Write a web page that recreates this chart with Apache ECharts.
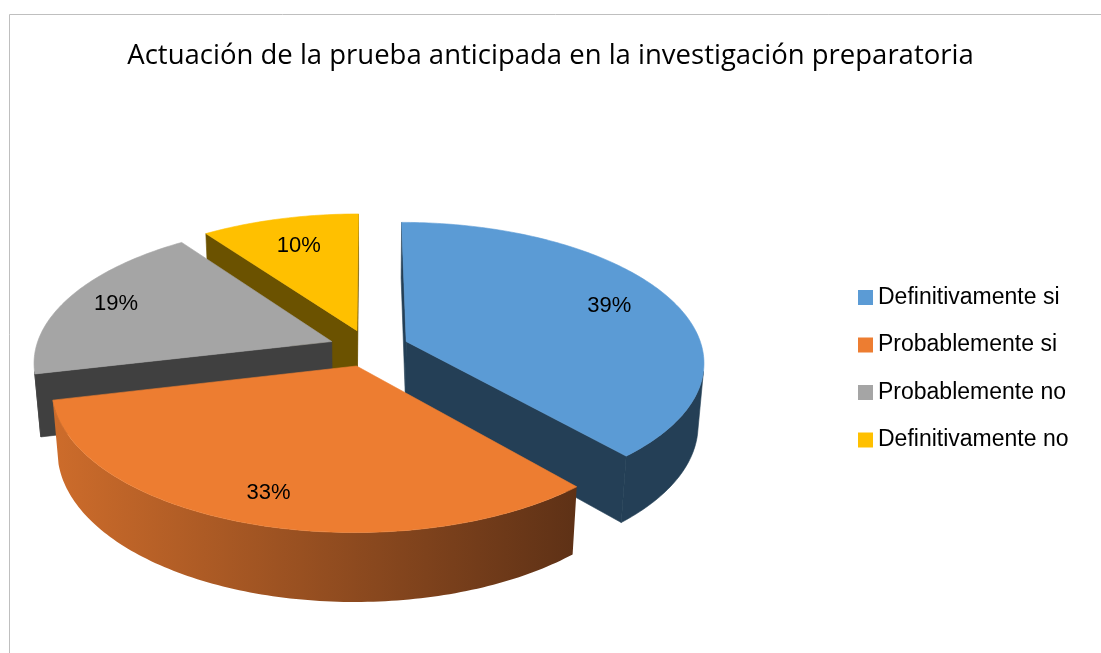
<!DOCTYPE html>
<html style="height: 100%" lang="es">
<head>
    <meta charset="UTF-8">
    <title>Actuación de la prueba anticipada</title>
</head>
<body style="height: 100%; margin: 0; background: #fff">
<div id="main1" style="width: 1101px; height: 653px"></div>

<script src="https://cdn.jsdelivr.net/npm/echarts@6.0.0/dist/echarts.min.js"></script>
<script type="text/javascript">

    // datos
    var categories = ['Definitivamente si', 'Probablemente si', 'Probablemente no', 'Definitivamente no'];
    var values = [39, 33, 19, 10];

    // colores: cara superior, paredes
    var topColors = ['#5b9bd5', '#ed7d31', '#a5a5a5', '#ffc000'];
    var wallLight = ['#243f56', '#cd6c2b', '#404040', '#6b5200'];
    var wallDark = ['#243f56', '#5e3116', '#404040', '#6b5200'];
    // distancia de la etiqueta al vertice (radio = 1)
    var labelRadius = [0.77, 0.83, 0.82, 0.73];

    // camara del pastel 3D
    var CX = 369, CY = 348, F = 1865, D0 = 6.3;
    var TILT = 27.7 * Math.PI / 180;
    var HEIGHT = 0.24, EXPLODE = 0.135;
    var SIN = Math.sin(TILT), COS = Math.cos(TILT);
    var CAM_Z = -D0 * COS;

    var total = values.reduce(function (a, b) { return a + b; }, 0);

    function project(X, Y, Z) {
        var yc = Y * COS + Z * SIN;
        var zc = D0 + Z * COS - Y * SIN;
        return [CX + F * X / zc, CY - F * yc / zc, zc];
    }

    function rad(d) { return d * Math.PI / 180; }

    function sliceAngles(i) {
        var cum = 0;
        for (var k = 0; k < i; k++) cum += values[k];
        return [cum / total * 360, (cum + values[i]) / total * 360];
    }

    function depthZ(pts) {
        var s = 0;
        for (var i = 0; i < pts.length; i++) s += pts[i][2];
        return s / pts.length;
    }

    function poly(pts, fill, z2) {
        return {
            type: 'polygon',
            z2: z2,
            shape: { points: pts.map(function (p) { return [p[0], p[1]]; }) },
            style: { fill: fill, stroke: typeof fill === 'string' ? fill : null, lineWidth: 0.6 }
        };
    }

    function renderItem(params, api) {
        var i = params.dataIndex;
        var ang = sliceAngles(i);
        var a = ang[0], b = ang[1], m = (a + b) / 2;
        var ox = EXPLODE * Math.sin(rad(m)), oz = EXPLODE * Math.cos(rad(m));
        var children = [];

        function pt(r, th, y) {
            return project(ox + r * Math.sin(rad(th)), y, oz + r * Math.cos(rad(th)));
        }

        var steps = Math.max(8, Math.ceil(b - a));
        var ths = [];
        for (var s = 0; s <= steps; s++) ths.push(a + (b - a) * s / steps);

        // pared exterior visible
        var vis = ths.filter(function (th) {
            var nx = Math.sin(rad(th)), nz = Math.cos(rad(th));
            var px = ox + nx, pz = oz + nz;
            return nx * (0 - px) + nz * (CAM_Z - pz) > 0;
        });
        if (vis.length > 1) {
            var outer = [];
            vis.forEach(function (th) { outer.push(pt(1, th, 0)); });
            for (var k = vis.length - 1; k >= 0; k--) outer.push(pt(1, vis[k], -HEIGHT));
            var fill = wallLight[i] === wallDark[i] ? wallDark[i] :
                new echarts.graphic.LinearGradient(0, 0, 1, 0, [
                    { offset: 0, color: wallLight[i] },
                    { offset: 1, color: wallDark[i] }
                ]);
            children.push(poly(outer, fill, Math.round(1000 - depthZ(outer) * 100)));
        }

        // paredes radiales
        [[a, -1], [b, 1]].forEach(function (e) {
            var th = e[0];
            var nx = e[1] * Math.cos(rad(th)), nz = -e[1] * Math.sin(rad(th));
            if (nx * (0 - ox) + nz * (CAM_Z - oz) <= 0) return;
            var w = [pt(0, th, 0), pt(1, th, 0), pt(1, th, -HEIGHT), pt(0, th, -HEIGHT)];
            children.push(poly(w, wallDark[i], Math.round(1000 - depthZ(w) * 100)));
        });

        // cara superior
        var top = [pt(0, a, 0)];
        ths.forEach(function (th) { top.push(pt(1, th, 0)); });
        children.push(poly(top, topColors[i], 2000 + i));

        // etiqueta
        var lp = pt(labelRadius[i], m, 0);
        children.push({
            type: 'text',
            z2: 3000,
            style: {
                text: Math.round(values[i] / total * 100) + '%',
                x: lp[0],
                y: lp[1],
                align: 'center',
                verticalAlign: 'middle',
                font: '22px "Liberation Sans"',
                fill: '#000'
            }
        });

        return { type: 'group', children: children };
    }

    var myChart1 = echarts.init(document.getElementById('main1'));

    var option1 = {
        backgroundColor: '#fff',
        animation: false,
        color: topColors,
        title: {
            text: 'Actuación de la prueba anticipada en la investigación preparatoria',
            left: 'center',
            top: 41,
            padding: 0,
            textStyle: {
                fontFamily: 'Open Sans',
                fontSize: 27.5,
                fontWeight: 'normal',
                color: '#000',
                lineHeight: 30
            }
        },
        legend: {
            orient: 'vertical',
            left: 858,
            top: 286,
            padding: 0,
            itemWidth: 15,
            itemHeight: 15,
            itemGap: 24.5,
            selectedMode: false,
            icon: 'rect',
            data: categories,
            textStyle: {
                fontFamily: 'Liberation Sans',
                fontSize: 23,
                lineHeight: 23,
                color: '#000'
            }
        },
        graphic: [{
            type: 'rect',
            shape: { x: 9.5, y: 14.5, width: 1200, height: 800 },
            style: { fill: 'none', stroke: '#bfbfbf', lineWidth: 1 },
            silent: true
        }],
        series: [
            {
                // solo para la leyenda
                type: 'pie',
                name: 'leyenda',
                radius: 0,
                center: [CX, CY],
                silent: true,
                label: { show: false },
                labelLine: { show: false },
                data: categories.map(function (c, i) { return { name: c, value: values[i] }; })
            },
            {
                type: 'custom',
                coordinateSystem: 'none',
                silent: true,
                renderItem: renderItem,
                data: values
            }
        ]
    };

    myChart1.setOption(option1);

</script>
</body>
</html>
